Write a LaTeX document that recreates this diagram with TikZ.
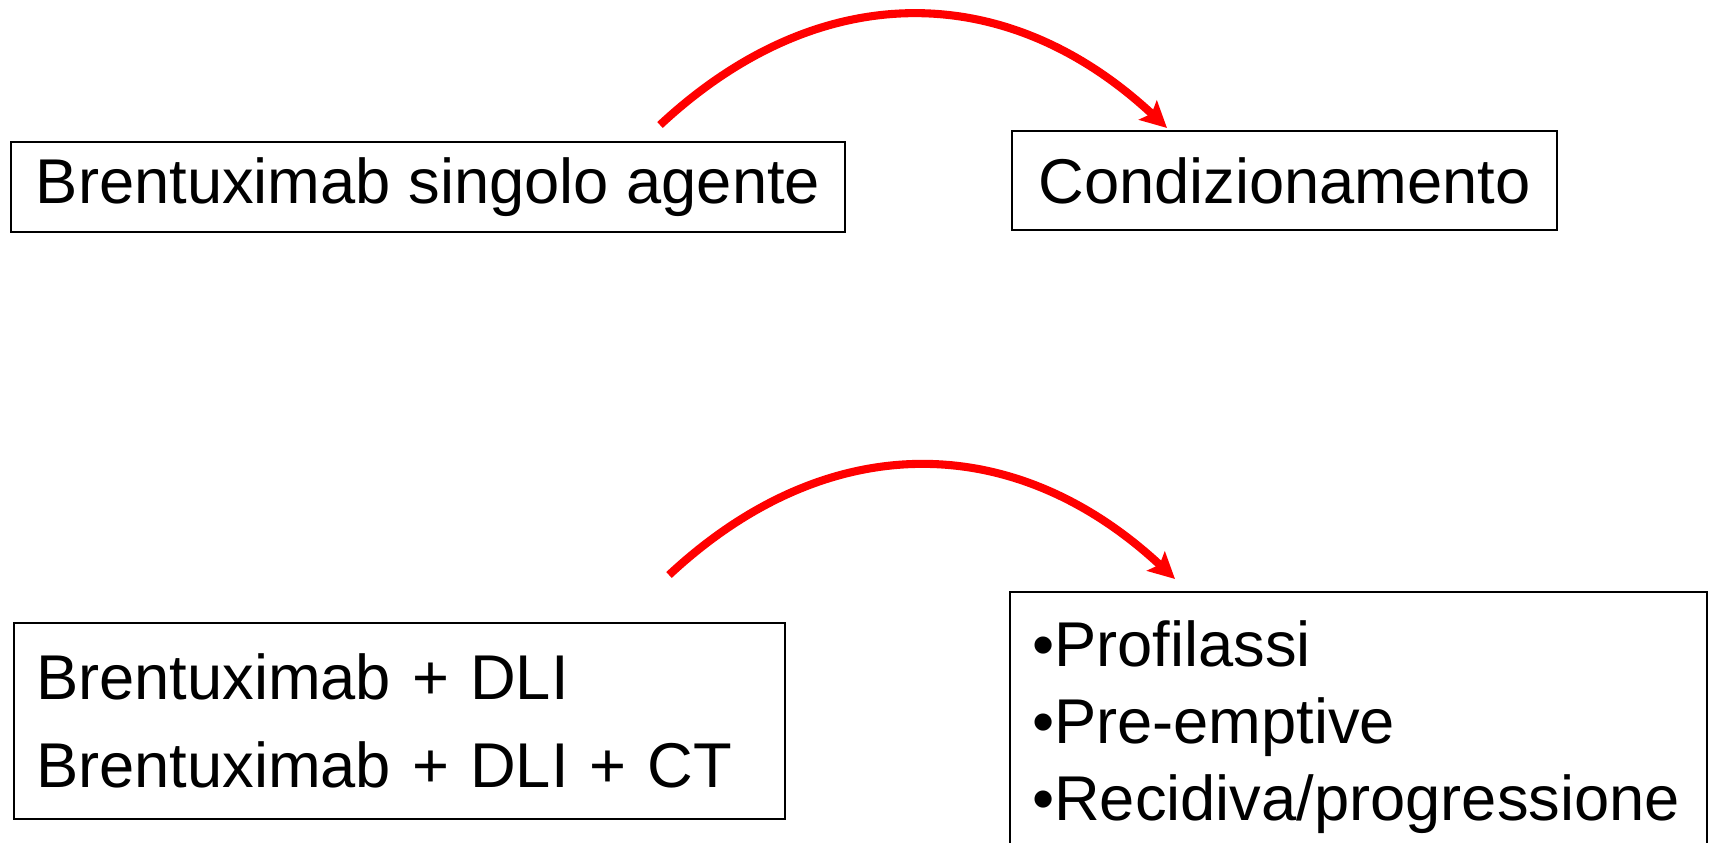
\documentclass[tikz,border=0pt]{standalone}
\usepackage{fontspec}
\setmainfont{Liberation Sans}
\usetikzlibrary{arrows.meta,positioning,calc}
\tikzstyle{bx}=[rectangle,draw=black,line width=0.8pt,inner xsep=0.22cm,inner ysep=0pt,font=\fontsize{18}{22}\selectfont]
\tikzstyle{redArc}=[draw=red,line width=2.3pt,-{Stealth[length=0.26cm,width=0.26cm,inset=0.05cm]}]

\begin{document}
\begin{tikzpicture}
    \useasboundingbox (0,0) rectangle (17.14,8.43);
    \node (bsa) [bx,minimum width=8.34cm,minimum height=0.90cm] at (4.28,6.56) {Brentuximab singolo agente};
    \node (cond) [bx,minimum width=5.45cm,minimum height=0.99cm] at (12.845,6.625) {Condizionamento};
    \node (bdli) [bx,text width=7.27cm,align=left,minimum height=1.96cm,font=\fontsize{18}{25}\selectfont] at (3.995,1.22) {Brentuximab + DLI\\Brentuximab + DLI + CT};
    \node (uso) [bx,text width=6.53cm,align=left,minimum height=2.70cm] at (13.585,1.16) {•Profilassi\\•Pre-emptive\\•Recidiva/progressione};

    % red arcs
    \coordinate (t1) at (6.60,7.18);
    \coordinate (h1) at (11.67,7.15);
    \draw[redArc] (t1) to [out=43,in=137,looseness=1.1] (h1);
    \coordinate (t2) at (6.69,2.68);
    \coordinate (h2) at (11.75,2.64);
    \draw[redArc] (t2) to [out=43,in=137,looseness=1.1] (h2);
\end{tikzpicture}
\end{document}
